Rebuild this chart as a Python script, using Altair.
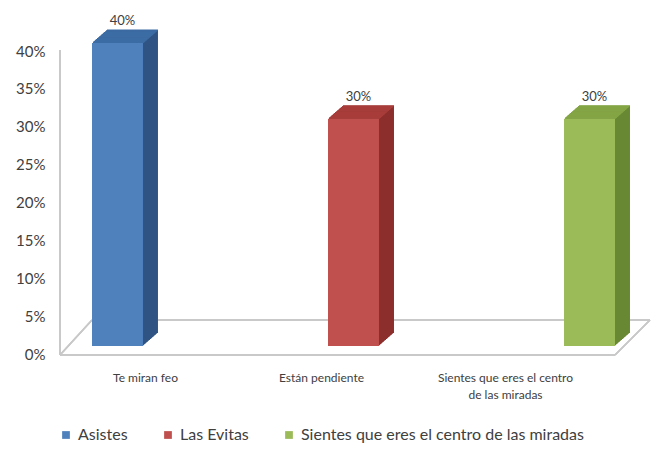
import altair as alt
import pandas as pd

categories = ["Te miran feo", "Están pendiente", "Sientes que eres el centro de las miradas"]
series = ["Asistes", "Las Evitas", "Sientes que eres el centro de las miradas"]
values = [0.40, 0.30, 0.30]
y_ticks = [0, 0.05, 0.10, 0.15, 0.20, 0.25, 0.30, 0.35, 0.40]

front_colors = ["#4F81BD", "#C0504D", "#9BBB59"]
side_colors = ["#2F5583", "#8C2F2D", "#6A8835"]
top_colors = ["#3D6CA4", "#A73D3A", "#84A545"]

df = pd.DataFrame({"categoria": categories, "serie": series, "valor": values})

FONT = "Lato"
W, H = 587, 303
DEPTH = 15
RISE = 13 / 15

xenc = alt.X(
    "categoria:N",
    sort=categories,
    scale=alt.Scale(paddingInner=0.784, paddingOuter=0.1356),
    axis=alt.Axis(
        title=None, domain=False, ticks=False, labelAngle=0,
        labelPadding=26, labelFont=FONT, labelFontSize=12, labelColor="#404040",
        labelLineHeight=17, labelLimit=0,
        labelExpr="datum.label == 'Sientes que eres el centro de las miradas' ? ['Sientes que eres el centro', 'de las miradas'] : datum.label",
        labelOffset={
            "condition": [
                {"test": "datum.value == 'Te miran feo'", "value": 28},
                {"test": "datum.value == 'Están pendiente'", "value": -32},
            ],
            "value": -84,
        },
    ),
)
yenc = alt.Y(
    "valor:Q",
    scale=alt.Scale(domain=[0, 0.4]),
    axis=alt.Axis(
        title=None, domain=False, ticks=False, grid=False, values=y_ticks,
        format=".0%", labelPadding=15, labelFont=FONT, labelFontSize=15,
        labelColor="#404040", labelOffset=8,
    ),
)

def color_with(rng, legend=None):
    if legend is None:
        return alt.Color("serie:N", scale=alt.Scale(domain=series, range=rng), legend=None)
    return alt.Color("serie:N", scale=alt.Scale(domain=series, range=rng), legend=legend)

base = alt.Chart(df)

layers = []
floor_col = "#C8C8C8"
layers.append(base.mark_rule(color=floor_col, strokeWidth=1.5).encode(
    x=alt.value(0), y=alt.value(7), y2=alt.value(312)))
layers.append(base.mark_rule(color=floor_col, strokeWidth=1.5).encode(
    x=alt.value(0), x2=alt.value(555), y=alt.value(312)))
layers.append(base.mark_rule(color=floor_col, strokeWidth=1.5).encode(
    x=alt.value(32), x2=alt.value(590), y=alt.value(277)))
layers.append(base.mark_rule(color=floor_col, strokeWidth=1.5).encode(
    x=alt.value(0), x2=alt.value(32), y=alt.value(312), y2=alt.value(277)))
layers.append(base.mark_rule(color=floor_col, strokeWidth=1.5).encode(
    x=alt.value(555), x2=alt.value(590), y=alt.value(312), y2=alt.value(277)))

# extrusion (side faces)
for k in range(DEPTH, 0, -1):
    layers.append(base.mark_bar(xOffset=k, yOffset=-k * RISE, y2Offset=-k * RISE).encode(
        x=xenc, y=yenc, y2=alt.datum(0), color=color_with(side_colors)))
# top faces
for k in range(1, DEPTH + 1):
    layers.append(base.mark_bar(xOffset=k, yOffset=-(k * RISE + 0.6), y2Offset=-(k - 1) * RISE).encode(
        x=xenc, y=yenc, y2="valor:Q", color=color_with(top_colors)))
# front faces with legend
layers.append(base.mark_bar().encode(
    x=xenc, y=yenc,
    color=color_with(front_colors, alt.Legend(
        title=None, orient="none", legendX=-2, legendY=384, direction="horizontal",
        symbolType="square", symbolSize=60, labelFont=FONT, labelFontSize=16,
        labelColor="#404040", columnPadding=32, labelOffset=4, symbolStrokeWidth=0,
        labelLimit=0,
    )),
))
layers.append(base.mark_text(dy=-22, dx=5, font=FONT, fontSize=13, color="#404040").encode(
    x=xenc, y=yenc, text=alt.Text("valor:Q", format=".0%")))

chart = alt.layer(*layers).resolve_scale(color="independent").properties(
    width=W, height=H,
    autosize=alt.AutoSizeParams(type="none"),
    padding={"left": 60, "top": 43, "right": 10, "bottom": 107},
    background="white",
).configure_view(stroke=None)

chart.save("out.html", embed_options={"renderer": "svg", "actions": False})
